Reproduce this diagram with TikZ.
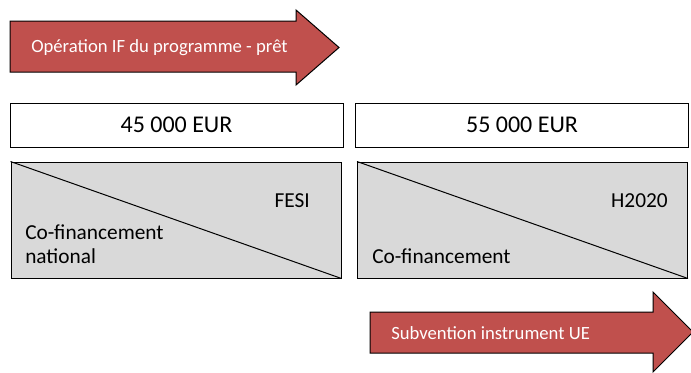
\documentclass[tikz,border=0pt]{standalone}
\usepackage{fontspec}
\setmainfont{Carlito}
\definecolor{arrowred}{HTML}{C0504D}
\definecolor{boxgrey}{HTML}{D9D9D9}
\begin{document}
\begin{tikzpicture}[x=0.75pt,y=-0.75pt,
  arrowshape/.style={fill=arrowred,draw=black,line width=0.75pt,line join=miter},
  arrowtext/.style={text=white,font=\fontsize{14}{17}\selectfont,inner sep=0pt},
  amountbox/.style={draw=black,line width=0.75pt,fill=white,minimum width=249.75pt,minimum height=33pt,inner sep=0pt,font=\fontsize{18}{21}\selectfont},
  splitbox/.style={draw=black,line width=0.75pt,fill=boxgrey,minimum width=247.5pt,minimum height=87pt,inner sep=0pt},
  label/.style={inner sep=0pt,font=\fontsize{16}{18}\selectfont}]
\useasboundingbox (0,0) rectangle (691,372);
% top arrow
\draw[arrowshape] (10,21) -- (296,21) -- (296,10) -- (339,47.5) -- (296,85) -- (296,72) -- (10,72) -- cycle;
\node[arrowtext,anchor=west] (pret) at (31,47.5) {Opération IF du programme - prêt};
% amount boxes
\node[amountbox] (a1) at (176.5,125) {45 000 EUR};
\node[amountbox] (a2) at (522,125) {55 000 EUR};
% split boxes
\node[splitbox] (s1) at (176,220) {};
\node[splitbox] (s2) at (522.5,220) {};
\draw[line width=0.75pt] (s1.north west) -- (s1.south east);
\draw[line width=0.75pt] (s2.north west) -- (s2.south east);
\node[label,anchor=base east] (fesi) at (310,207) {FESI};
\node[label,anchor=base east] (h2020) at (668,207) {H2020};
\node[label,anchor=base west,align=left] (cofin1) at (25,263) {Co-financement\\national};
\node[label,anchor=base west] (cofin2) at (372,263) {Co-financement};
% bottom arrow
\draw[arrowshape] (370,312) -- (653,312) -- (653,292) -- (693,332) -- (653,372) -- (653,353) -- (370,353) -- cycle;
\node[arrowtext,anchor=west] (subv) at (391,333) {Subvention instrument UE};
\end{tikzpicture}
\end{document}
